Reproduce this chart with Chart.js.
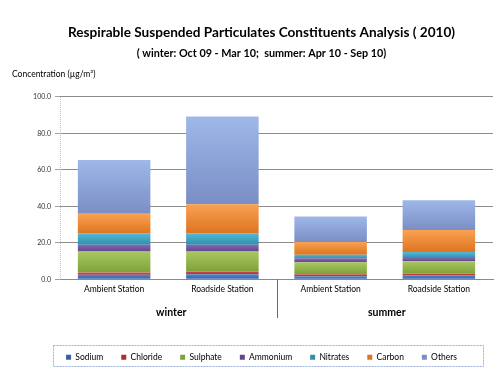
<!DOCTYPE html>
<html><head><meta charset="utf-8">
<script src="https://cdn.jsdelivr.net/npm/chart.js@4/dist/chart.umd.min.js"></script>
<style>html,body{margin:0;padding:0;background:#fff}</style>
</head><body>
<canvas id="c" width="502" height="388"></canvas>
<script>
const categories = ["Ambient Station", "Roadside Station", "Ambient Station", "Roadside Station"];
const groups = ["winter", "summer"];
const seriesNames = ["Sodium", "Chloride", "Sulphate", "Ammonium", "Nitrates", "Carbon", "Others"];
const sodium   = [2.5, 2.8, 1.7, 2.2];
const chloride = [1.2, 1.5, 1.1, 1.0];
const sulphate = [11.6, 11.0, 6.5, 6.7];
const ammonium = [3.7, 3.7, 2.2, 1.8];
const nitrates = [6.1, 6.1, 1.9, 3.2];
const carbon   = [10.8, 16.1, 7.1, 12.1];
const others   = [29.5, 48.0, 13.9, 16.3];
const yTicks = [0, 20, 40, 60, 80, 100];

const seriesData = [sodium, chloride, sulphate, ammonium, nitrates, carbon, others];
const flat = ["#4472BA", "#C23E3C", "#94B64A", "#74569F", "#3FA6C2", "#F08A36", "#8DA6DA"];
const topC = ["#5585C8", "#D45250", "#A8C862", "#8668B0", "#55B8D2", "#FAA152", "#9EB8E8"];
const botC = ["#3560A8", "#A83030", "#7FA238", "#62468C", "#2E90AE", "#DD7420", "#7A8EC6"];

const FONT = "Lato, 'Liberation Sans', Arial, sans-serif";
Chart.defaults.font.family = FONT;

function segColor(i) {
  return function (c) {
    if (c.type !== 'data') return flat[i];
    const ch = c.chart, y = ch.scales.y;
    if (!y || !ch.chartArea) return flat[i];
    let start = 0;
    for (let k = 0; k < i; k++) start += seriesData[k][c.dataIndex];
    const end = start + seriesData[i][c.dataIndex];
    const y0 = y.getPixelForValue(end), y1 = y.getPixelForValue(start);
    if (!isFinite(y0) || !isFinite(y1) || y0 === y1) return flat[i];
    const g = ch.ctx.createLinearGradient(0, y0, 0, y1);
    g.addColorStop(0, topC[i]);
    g.addColorStop(1, botC[i]);
    return g;
  };
}

const extras = {
  id: 'extras',
  afterDraw(chart) {
    const ctx = chart.ctx, x = chart.scales.x, area = chart.chartArea;
    ctx.save();
    // y axis line (dotted, light)
    ctx.strokeStyle = '#BDBDBD';
    ctx.lineWidth = 1;
    ctx.setLineDash([1, 1]);
    ctx.beginPath();
    ctx.moveTo(area.left + 0.5, area.top);
    ctx.lineTo(area.left + 0.5, area.bottom);
    ctx.stroke();
    ctx.setLineDash([]);
    // y unit label
    ctx.fillStyle = '#000';
    ctx.font = "8.5px " + FONT;
    ctx.textAlign = 'left';
    ctx.textBaseline = 'middle';
    ctx.fillText("Concentration (\u00B5g/m\u00B3)", 12, 74);
    // group labels
    ctx.font = "bold 10.5px " + FONT;
    ctx.textAlign = 'center';
    const p = i => x.getPixelForValue(i);
    ctx.fillText(groups[0], (p(0) + p(1)) / 2 + 3, 313);
    ctx.fillText(groups[1], (p(2) + p(3)) / 2 + 2, 313);
    // group separator
    const sx = Math.round((p(1) + p(2)) / 2) + 0.5;
    ctx.strokeStyle = '#4A6EA8';
    ctx.beginPath();
    ctx.moveTo(sx, area.bottom);
    ctx.lineTo(sx, 318);
    ctx.stroke();
    // legend frame
    ctx.strokeStyle = '#9AB0DA';
    ctx.setLineDash([2, 1]);
    ctx.strokeRect(53.5, 345.5, 430, 21);
    ctx.restore();
  }
};

new Chart(document.getElementById('c'), {
  type: 'bar',
  data: {
    labels: categories,
    datasets: seriesNames.map((n, i) => ({
      label: n,
      data: seriesData[i],
      backgroundColor: segColor(i),
      borderWidth: 0,
      categoryPercentage: 1,
      barPercentage: 0.67
    }))
  },
  options: {
    responsive: false,
    animation: false,
    devicePixelRatio: 1,
    layout: { padding: { left: 30, right: 9, top: 0, bottom: 16.6 } },
    plugins: {
      title: {
        display: true,
        text: "Respirable Suspended Particulates Constituents Analysis ( 2010)",
        color: '#000',
        font: { size: 13.6, weight: 'bold' },
        padding: { top: 24, bottom: 7 }
      },
      subtitle: {
        display: true,
        text: "( winter: Oct 09 - Mar 10;  summer: Apr 10 - Sep 10)",
        color: '#000',
        font: { size: 10.8, weight: 'bold' },
        padding: { top: 0, bottom: 36.6 }
      },
      legend: {
        position: 'bottom',
        labels: {
          boxWidth: 5, boxHeight: 5, padding: 18,
          color: '#000', font: { size: 8.5 }
        }
      },
      tooltip: { enabled: false }
    },
    scales: {
      x: {
        stacked: true,
        grid: { display: false, drawTicks: false },
        border: { display: true, color: '#8A8A8A' },
        ticks: { color: '#000', font: { size: 8.5 }, padding: 5, maxRotation: 0 },
        afterFit(s) { s.height = 55.6; }
      },
      y: {
        stacked: true,
        min: 0, max: 100,
        afterBuildTicks(s) { s.ticks = yTicks.map(v => ({ value: v })); },
        grid: { color: '#8C8C8C', tickLength: 5, tickColor: '#A0A0A0' },
        border: { display: false },
        ticks: { color: '#333', font: { size: 7 }, padding: 4, callback: v => v.toFixed(1) },
        afterFit(s) { s.width = 30; }
      }
    }
  },
  plugins: [extras]
});
</script>
</body></html>
